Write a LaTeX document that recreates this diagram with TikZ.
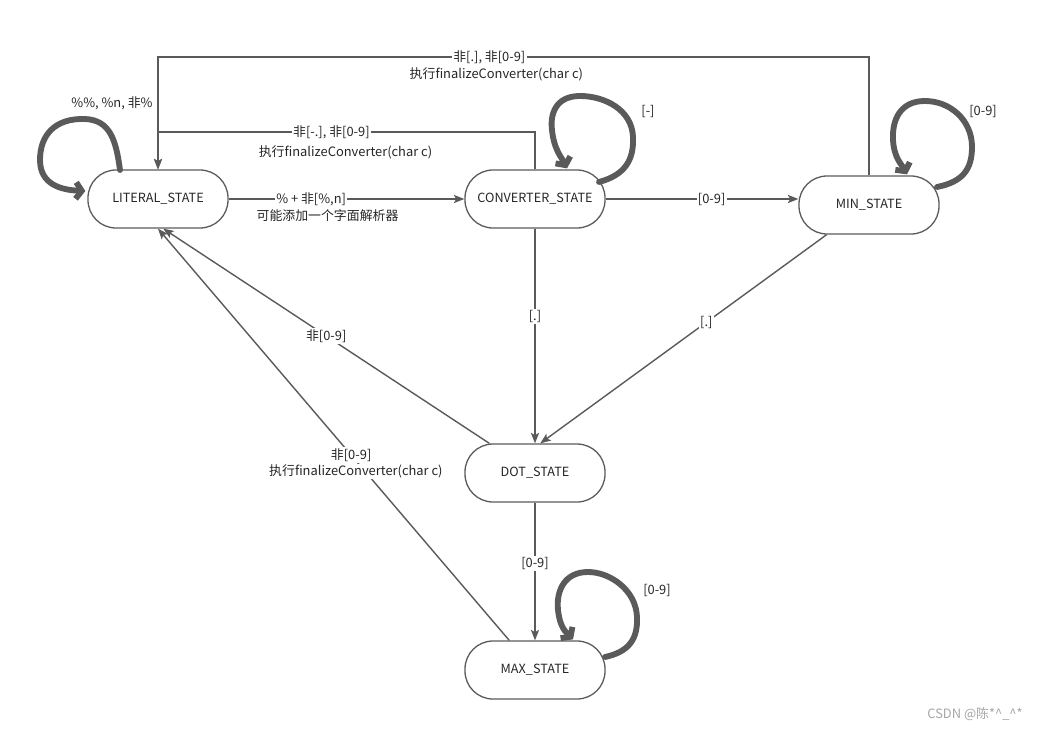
\documentclass[tikz,border=0pt]{standalone}
\usepackage{fontspec}
\setmainfont{Noto Sans CJK SC}
\usetikzlibrary{shapes,arrows.meta,positioning,calc}
\definecolor{linegray}{HTML}{5A5A5A}
\definecolor{txtgray}{HTML}{262626}
\tikzset{
	statebox/.style={draw=linegray, line width=1.1pt, rounded corners=0.84cm, minimum width=4.2cm, minimum height=1.74cm, text=txtgray, font=\fontsize{10.8}{12}\selectfont},
	edge/.style={draw=linegray, line width=1.2pt, -{Stealth[length=9pt,width=7pt,inset=2pt]}},
	selfloop/.style={draw=linegray, line width=5pt, line cap=round, line join=round, -{Straight Barb[length=5pt,width=14pt]}},
	lbl/.style={fill=white, inner sep=1pt, text=txtgray, font=\fontsize{11}{12}\selectfont},
	note/.style={inner sep=1pt, text=txtgray, font=\fontsize{11}{12}\selectfont}
}

\begin{document}
\begin{tikzpicture}[x=0.03cm, y=-0.03cm]
	\useasboundingbox (0,0) rectangle (1044,730);
	%states
	\node[statebox] (lit) at (158,199) {LITERAL\_STATE};
	\node[statebox] (conv) at (535,199) {CONVERTER\_STATE};
	\node[statebox] (minst) at (869,205) {MIN\_STATE};
	\node[statebox] (dot) at (535,473) {DOT\_STATE};
	\node[statebox] (maxst) at (535,670) {MAX\_STATE};
	\coordinate (top1) at (0,132);
	\coordinate (top2) at (0,57);

	%transitions
	\draw[edge] (lit.east) -- node[lbl,pos=0.35] (t1) {\% + 非[\%,n]} (conv.west);
	\node[note, below=1pt of t1, xshift=14pt] {可能添加一个字面解析器};
	\draw[edge] (conv.north) |- node[lbl,pos=0.77] (t2) {非[-.], 非[0-9]} (top1 -| lit.north) -- (lit.north);
	\node[note, below=3pt of t2, xshift=12pt] {执行finalizeConverter(char c)};
	\draw[edge] (minst.north) |- node[lbl,pos=0.767] (t3) {非[.], 非[0-9]} (top2 -| lit.north) -- (lit.north);
	\node[note, below=1pt of t3, xshift=6pt] {执行finalizeConverter(char c)};
	\draw[edge] (conv.east) -- node[lbl,pos=0.55] {[0-9]} (conv.east -| minst.west);
	\draw[edge] (conv.south) -- node[lbl,pos=0.41] {[.]} (dot.north);
	\draw[edge] (minst.215) -- node[lbl,pos=0.42] {[.]} (dot.80);
	\draw[edge] (dot.147) -- node[lbl,pos=0.5] {非[0-9]} (lit.-80);
	\draw[edge] (maxst.131) -- node[lbl,pos=0.45] (t4) {非[0-9]} (lit.-90);
	\node[lbl, below=0pt of t4, xshift=4pt] {执行finalizeConverter(char c)};
	\draw[edge] (dot.south) -- node[lbl,pos=0.44] {[0-9]} (maxst.north);

	%self loops
	\draw[selfloop] ($(lit.center)+(-38,-29)$) .. controls (116,140) and (110,120) .. (85,119)
		.. controls (55,118) and (40,135) .. (40,160) .. controls (40,185) and (62,190) .. ($(lit.west)+(-2,-8)$);
	\node[note] at (112,103) {\%\%, \%n, 非\%};
	\draw[selfloop] ($(conv.center)+(64,-17)$) .. controls (625,175) and (634,160) .. (633,137)
		.. controls (632,110) and (605,96) .. (580,96) .. controls (555,96) and (550,115) .. (552,130)
		.. controls (554,150) and (562,158) .. ($(conv.north)+(32,-1)$);
	\node[note] at (648,111) {[-]};
	\draw[selfloop] ($(minst.center)+(68,-18)$) .. controls (962,182) and (972,170) .. (972,147)
		.. controls (972,120) and (950,101) .. (925,101) .. controls (900,101) and (892,120) .. (893,140)
		.. controls (894,158) and (902,165) .. ($(minst.north)+(38,-1)$);
	\node[note] at (983,111) {[0-9]};
	\draw[selfloop] ($(maxst.center)+(70,-13)$) .. controls (628,652) and (638,640) .. (637,617)
		.. controls (636,590) and (610,572) .. (588,572) .. controls (565,572) and (556,590) .. (558,610)
		.. controls (560,628) and (566,632) .. ($(maxst.north)+(38,-1)$);
	\node[note] at (657,590) {[0-9]};

	%watermark
	\node[text=gray!70, font=\fontsize{11}{12}\selectfont] at (975,714) {CSDN @陈*\textasciicircum\_\textasciicircum*};
\end{tikzpicture}
\end{document}
